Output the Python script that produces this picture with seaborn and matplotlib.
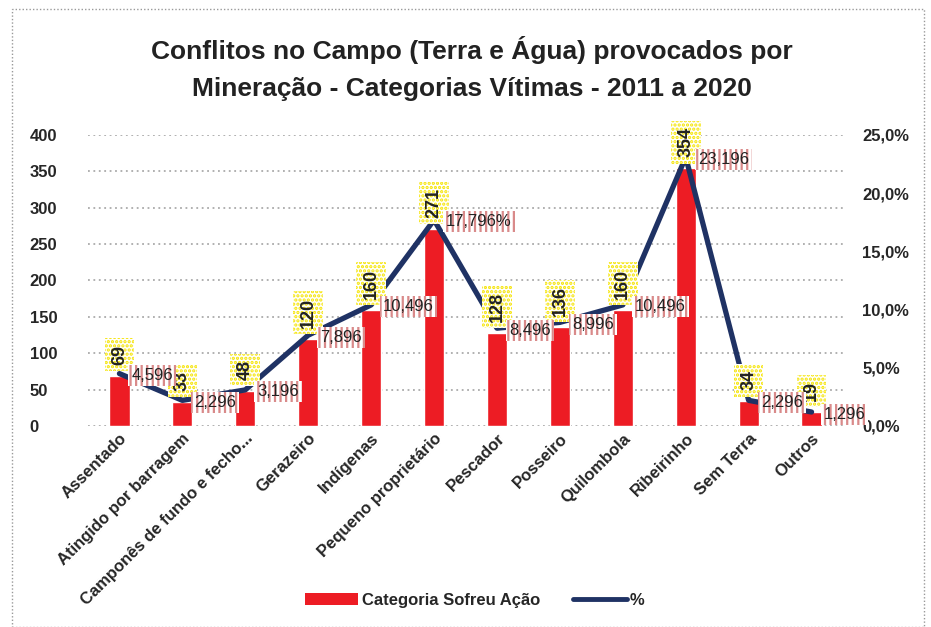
import numpy as np
import pandas as pd
import matplotlib.pyplot as plt
import matplotlib.ticker as mticker
from matplotlib.patches import Rectangle, Patch
from matplotlib.lines import Line2D
import seaborn as sns

categorias = ["Assentado", "Atingido por barragem", "Camponês de fundo e fecho...",
              "Gerazeiro", "Indígenas", "Pequeno proprietário", "Pescador",
              "Posseiro", "Quilombola", "Ribeirinho", "Sem Terra", "Outros"]
vitimas = [69, 33, 48, 120, 160, 271, 128, 136, 160, 354, 34, 19]
percentual = [4.5, 2.2, 3.1, 7.8, 10.4, 17.7, 8.4, 8.9, 10.4, 23.1, 2.2, 1.2]
rotulos_pct = ["4,596", "2,296", "3,196", "7,896", "10,496", "17,796%",
               "8,496", "8,996", "10,496", "23,196", "2,296", "1,296"]

titulo = "Conflitos no Campo (Terra e Água) provocados por\nMineração - Categorias Vítimas - 2011 a 2020"

RED = "#ED1C24"
NAVY = "#1F3264"

sns.set_style("white")
plt.rcParams["font.family"] = ["Liberation Sans", "DejaVu Sans"]
plt.rcParams["hatch.linewidth"] = 1.6

df = pd.DataFrame({"cat": categorias, "n": vitimas, "pct": percentual})

fig = plt.figure(figsize=(9.31, 6.27), dpi=100)
ax = fig.add_axes([0.0945, 0.3206, 0.811, 0.4641])

sns.barplot(data=df, x="cat", y="n", color=RED, saturation=1, width=0.32, ax=ax)
ax.set_ylim(0, 400)
ax.set_yticks(range(0, 401, 50))
ax.yaxis.grid(True, color="#aaaaaa", linestyle=(0, (1, 2)), linewidth=1.3)
ax.set_axisbelow(True)
for s in ax.spines.values():
    s.set_visible(False)
ax.set_xlabel("")
ax.set_ylabel("")
ax.tick_params(axis="both", length=0, labelsize=12)
ax.tick_params(axis="y", pad=42)
for lab in ax.get_yticklabels():
    lab.set_fontweight("bold")
    lab.set_horizontalalignment("left")
ax.set_xticks(range(len(categorias)))
ax.set_xticklabels(categorias, rotation=45, ha="right", rotation_mode="anchor",
                   fontweight="bold", fontsize=12)
ax.set_xlim(-0.5, len(categorias) - 0.5)

ax2 = ax.twinx()
sns.lineplot(x=np.arange(len(categorias)), y=df["pct"], color=NAVY, linewidth=3.8,
             ax=ax2, legend=False, zorder=1)
ax2.set_ylim(0, 25)
ax2.set_ylabel("")
ax2.set_yticks(range(0, 26, 5))
ax2.yaxis.set_major_formatter(mticker.FuncFormatter(lambda v, p: f"{v:.1f}%".replace(".", ",")))
ax2.tick_params(axis="y", length=0, labelsize=12, pad=14)
for lab in ax2.get_yticklabels():
    lab.set_fontweight("bold")
for s in ax2.spines.values():
    s.set_visible(False)
ax2.set_xlim(-0.5, len(categorias) - 0.5)

# value labels above bars
for i, v in enumerate(vitimas):
    ax2.annotate(str(v), xy=(i, v / 400 * 25), xytext=(0, 11), textcoords="offset pixels",
                 rotation=90, ha="center", va="bottom", fontsize=13, fontweight="bold",
                 color="#222222", zorder=8,
                 bbox=dict(boxstyle="square,pad=0.35", facecolor="white",
                           edgecolor="#F5E400", hatch="....", linewidth=0))

# percent labels next to the line points
for i, (p, t) in enumerate(zip(percentual, rotulos_pct)):
    ax2.annotate(t, xy=(i, p), xytext=(12, -2), textcoords="offset pixels",
                 ha="left", va="center", fontsize=12,
                 color="#222222", zorder=10,
                 bbox=dict(boxstyle="square,pad=0.18", facecolor="white",
                           edgecolor="#D98A8A", hatch="|||", linewidth=0))

fig.text(0.507, 0.891, titulo, ha="center", va="center", fontsize=19,
         fontweight="bold", linespacing=1.65, color="#222222")

handles = [Patch(facecolor=RED, edgecolor="none"),
           Line2D([0], [0], color=NAVY, linewidth=3.5)]
fig.legend(handles, ["Categoria Sofreu Ação", "%"], loc="center",
           bbox_to_anchor=(0.51, 0.043), ncol=2, frameon=False,
           prop={"weight": "bold", "size": 12}, handlelength=3.2,
           handletextpad=0.2, columnspacing=2.0)

fig.patches.append(Rectangle((0.013, 0.0), 0.98, 0.985, transform=fig.transFigure,
                             fill=False, edgecolor="#999999", linestyle=(0, (1, 1.5)),
                             linewidth=1.0))

fig.savefig("out.png", dpi=100)
